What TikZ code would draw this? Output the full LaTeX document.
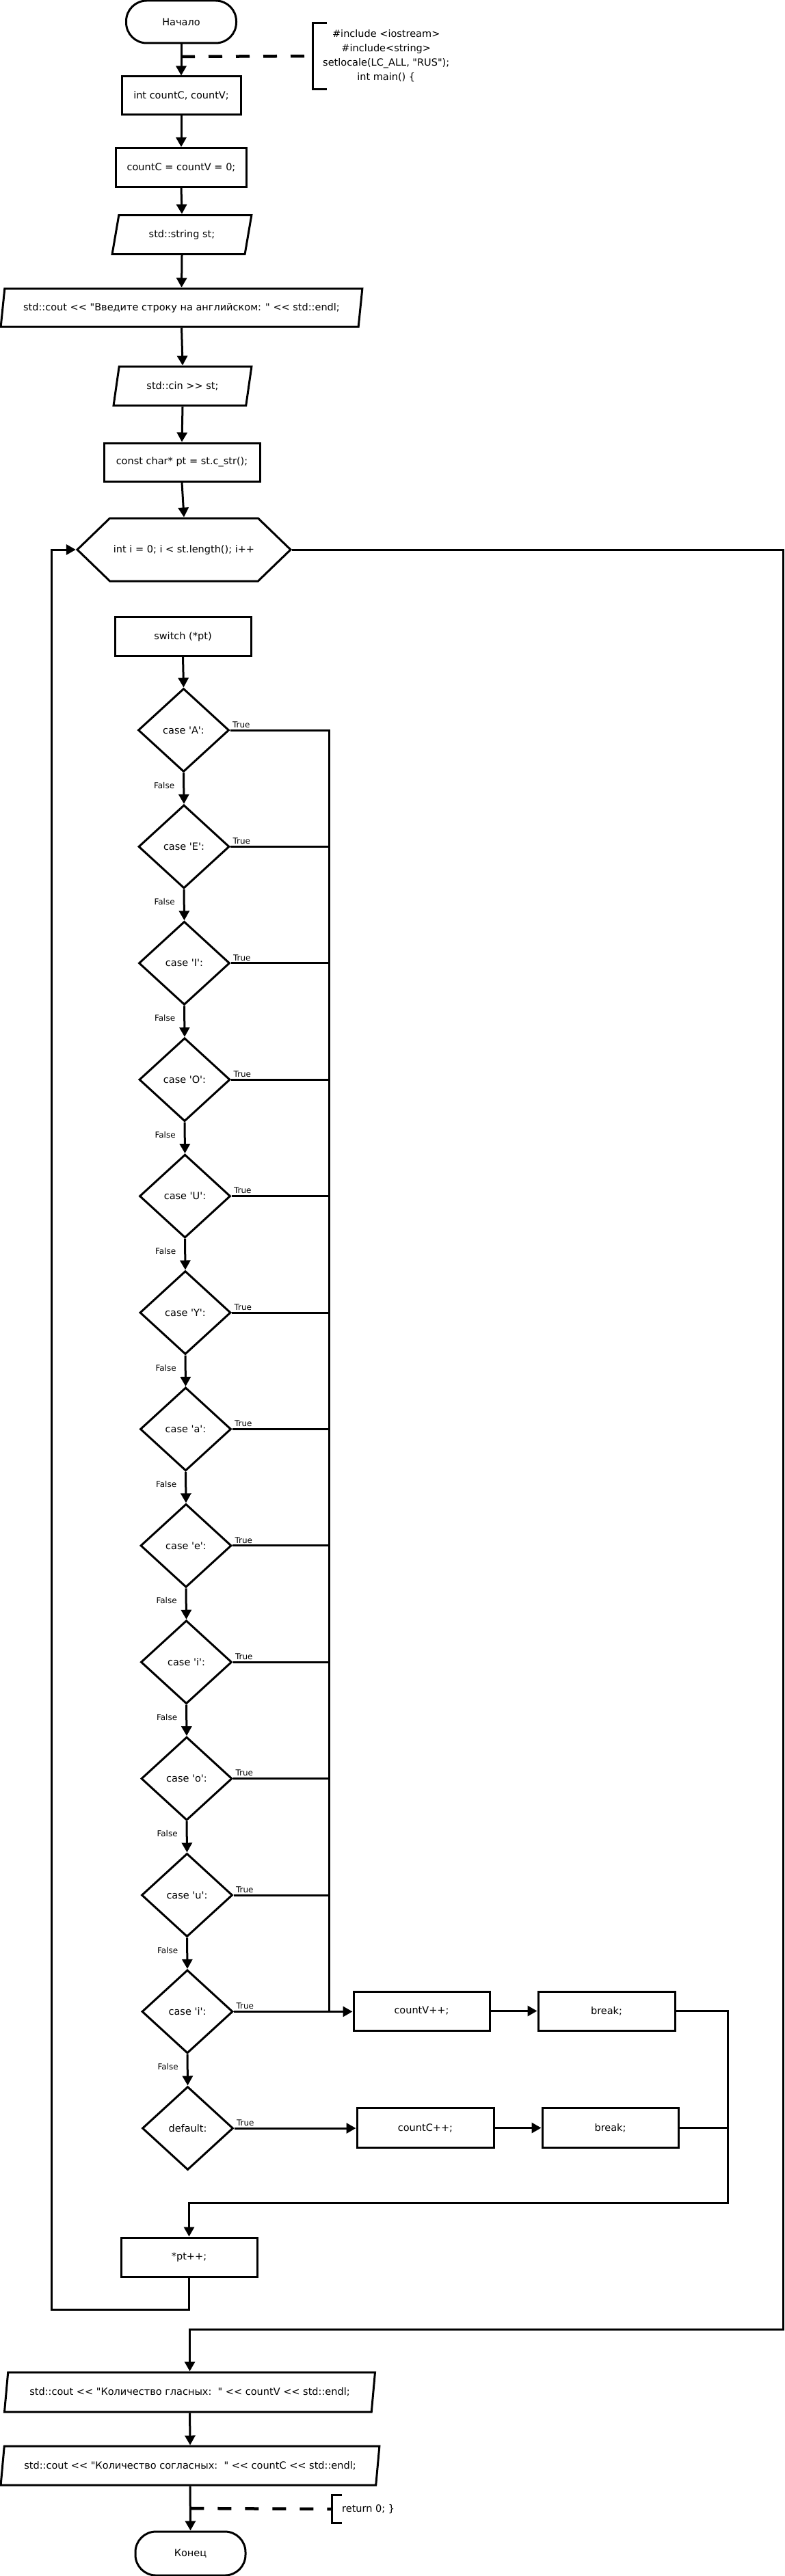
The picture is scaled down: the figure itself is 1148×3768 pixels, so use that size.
\documentclass[tikz,border=0pt]{standalone}
\usepackage{fontspec}
\newfontfamily\flowfont{DejaVu Sans}
\usepackage{tikz}
\usetikzlibrary{shapes.geometric, shapes.symbols, arrows.meta, positioning, calc}
\tikzset{
  base/.style={draw=black, line width=3pt, font=\flowfont\fontsize{14.5}{21}\selectfont,
    align=center, inner sep=0pt},
  block/.style={base, rectangle, minimum width=199pt, minimum height=57pt},
  termblock/.style={base, rectangle, rounded corners=30pt, minimum width=161pt, minimum height=62pt},
  ioblock/.style={base, trapezium, trapezium left angle=70, trapezium right angle=110,
    trapezium stretches=true, minimum height=57pt},
  loopblock/.style={base, signal, signal to=east and west, signal pointer angle=88,
    minimum width=312pt, minimum height=92pt},
  decision/.style={base, diamond, minimum width=133pt, minimum height=122pt},
  note/.style={font=\flowfont\fontsize{14.5}{21}\selectfont, align=center,
    inner xsep=15pt, inner ysep=0pt, anchor=west},
  lbl/.style={font=\flowfont\fontsize{12}{14}\selectfont, inner sep=2pt},
  arrow/.style={-{Triangle[length=14pt, width=15pt]}, line width=3pt, color=black},
  line/.style={line width=3pt, color=black},
  dashline/.style={line width=4.5pt, dash pattern=on 20pt off 20pt, color=black}
}

\begin{document}
\begin{tikzpicture}[x=1pt, y=-1pt]
  \useasboundingbox (0,0) rectangle (1148,3768);

  % Start and preparation
  \node[termblock] (start) at (265,32) {Начало};
  \node[block, minimum width=174pt, minimum height=56pt] (decl) at (265,140) {int countC, countV;};
  \node[block, minimum width=191pt] (init) at (265,245) {countC = countV = 0;};
  \node[ioblock, minimum width=204pt] (readst) at (266,343) {std::string st;};
  \node[ioblock, minimum width=531pt, minimum height=56pt] (prompt) at (265.5,450)
    {std::cout << "Введите строку на английском: " << std::endl;};
  \node[ioblock, minimum width=202pt] (cin) at (267,564.5) {std::cin >> st;};
  \node[block, minimum width=228pt, minimum height=56pt] (ptr) at (266,676) {const char* pt = st.c\_str();};

  % Header comment
  \path (start.south) -- (decl.north) coordinate[pos=0.4] (cmt1);
  \node[note, minimum height=97pt] (head) at (457,82)
    {\#include <iostream>\\\#include<string>\\setlocale(LC\_ALL, "RUS");\\int main() \{};
  \draw[line] ([xshift=21pt]head.north west) -- (head.north west) -- (head.south west) -- ([xshift=21pt]head.south west);
  \draw[dashline] (cmt1) -- (head.west);

  % Loop and switch
  \node[loopblock] (loop) at (269,804) {int i = 0; i < st.length(); i++};
  \node[block] (switch) at (267.5,931) {switch (*pt)};
  \foreach \ch [count=\k] in {A,E,I,O,U,Y,a,e,i,o,u,i}
    \node[decision] (c\k) at ({268+0.5*\k},{1068+170.4*(\k-1)}) {case '\ch':};
  \node[decision] (dflt) at (274.5,3113) {default:};

  % Branch blocks
  \node[block] (incV) at (616.5,2941.5) {countV++;};
  \node[block, minimum width=200pt] (brk1) at (887,2941.5) {break;};
  \node[block, minimum width=200pt, minimum height=58pt] (incC) at (622,3112.5) {countC++;};
  \node[block, minimum height=58pt] (brk2) at (892.5,3112.5) {break;};
  \node[block] (nextch) at (276.5,3301.5) {*pt++;};

  % Output and end
  \node[ioblock, minimum width=543pt, minimum height=58pt] (outV) at (277.5,3499)
    {std::cout << "Количество гласных:\ \ " << countV << std::endl;};
  \node[ioblock, minimum width=556pt] (outC) at (278,3606.5)
    {std::cout << "Количество согласных:\ \ " << countC << std::endl;};
  \node[termblock, minimum height=64pt] (finish) at (278.5,3735) {Конец};

  % Tail comment
  \path (outC.south) -- (finish.north) coordinate[pos=0.5] (cmt2);
  \node[note, minimum height=41pt] (tail) at (485,3670) {return 0; \}};
  \draw[line] ([xshift=15pt]tail.north west) -- (tail.north west) -- (tail.south west) -- ([xshift=15pt]tail.south west);
  \draw[dashline] (cmt2) -- (tail.west);

  % Main flow
  \draw[arrow] (start.south) -- (decl.north);
  \draw[arrow] (decl.south) -- (init.north);
  \draw[arrow] (init.south) -- (readst.north);
  \draw[arrow] (readst.south) -- (prompt.north);
  \draw[arrow] (prompt.south) -- (cin.north);
  \draw[arrow] (cin.south) -- (ptr.north);
  \draw[arrow] (ptr.south) -- (loop.north);
  \draw[arrow] (switch.south) -- (c1.north);
  \foreach \k [evaluate=\k as \n using int(\k+1)] in {1,...,11}
    \draw[arrow] (c\k.south) -- node[lbl, pos=0.4, left=10pt] {False} (c\n.north);
  \draw[arrow] (c12.south) -- node[lbl, pos=0.4, left=10pt] {False} (dflt.north);

  % True branches
  \coordinate (bus) at (481,0);
  \draw[line] (c1.east) -- node[lbl, pos=0, anchor=south west] {True} (c1.east -| bus) -- (c12.east -| bus);
  \foreach \k in {2,...,11}
    \draw[line] (c\k.east) -- node[lbl, pos=0, anchor=south west] {True} (c\k.east -| bus);
  \draw[arrow] (c12.east) -- node[lbl, pos=0, anchor=south west] {True} (c12.east -| incV.west);
  \draw[arrow] (dflt.east) -- node[lbl, pos=0, anchor=south west] {True} (dflt.east -| incC.west);
  \draw[arrow] (incV) -- (brk1);
  \draw[arrow] (incC) -- (brk2);
  \coordinate (merge) at (1064,3222);
  \draw[arrow] (brk1.east) -| (merge) -| (nextch.north);
  \draw[line] (brk2.east) -- (brk2.east -| merge);

  % Loop back and exit
  \coordinate (backL) at (75,3378);
  \draw[arrow] (nextch.south) |- (backL) |- (loop.west);
  \coordinate (exitR) at (1145,3407);
  \draw[arrow] (loop.east) -| (exitR) -| (outV.north);
  \draw[arrow] (outV.south) -- (outC.north);
  \draw[arrow] (outC.south) -- (finish.north);
\end{tikzpicture}
\end{document}
